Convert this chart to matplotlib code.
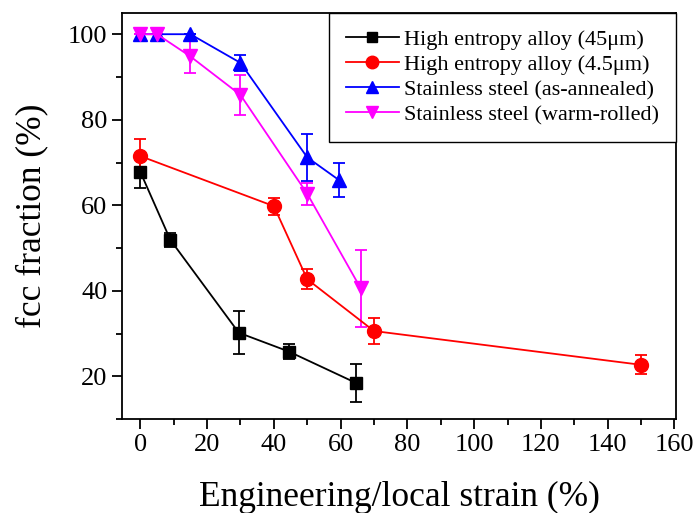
import numpy as np
import matplotlib.pyplot as plt
from matplotlib.ticker import MultipleLocator
from matplotlib.lines import Line2D

plt.rcParams['font.family'] = ['Liberation Serif', 'DejaVu Serif']

# High entropy alloy (45um)
hea45_x = [0, 9, 29.5, 44.5, 64.5]
hea45_y = [67.8, 51.9, 30.2, 25.8, 18.5]
hea45_err = [3.8, 1.6, 5.0, 1.8, 4.4]

# High entropy alloy (4.5um)
hea4_x = [0, 40, 50, 70, 150]
hea4_y = [71.5, 59.8, 42.7, 30.6, 22.7]
hea4_err = [3.9, 2.0, 2.3, 3.0, 2.2]

# Stainless steel (as-annealed)
ann_x = [0, 5, 15, 30, 50, 59.5]
ann_y = [100, 100, 100, 93.3, 71.2, 65.9]
ann_err = [0, 0, 0, 1.9, 5.5, 4.0]

# Stainless steel (warm-rolled)
wr_x = [0, 5, 15, 30, 50, 66]
wr_y = [100, 100, 94.8, 85.8, 62.7, 40.6]
wr_err = [0, 0, 3.9, 4.7, 2.6, 9.0]

series = [
    (hea45_x, hea45_y, hea45_err, 'black', 's', 8.5, 'High entropy alloy (45\u03bcm)'),
    (hea4_x, hea4_y, hea4_err, 'red', 'o', 10, 'High entropy alloy (4.5\u03bcm)'),
    (ann_x, ann_y, ann_err, 'blue', '^', 10, 'Stainless steel (as-annealed)'),
    (wr_x, wr_y, wr_err, '#FF00FF', 'v', 10, 'Stainless steel (warm-rolled)'),
]

fig = plt.figure(figsize=(6.97, 5.13), dpi=100)
ax = fig.add_axes([0.175, 0.183, 0.795, 0.792])

handles = []
for x, y, e, c, m, ms, lab in series:
    ax.errorbar(x, y, yerr=e, color=c, marker=m, markersize=ms, lw=1.3,
                capsize=4, capthick=1.3, elinewidth=1.3)
    # legend entry without the error bar
    handles.append(Line2D([], [], color=c, marker=m, markersize=ms * 0.9, lw=1.3, label=lab))

ax.set_xlim(-5.5, 160.5)
ax.set_ylim(10, 105)
ax.xaxis.set_major_locator(MultipleLocator(20))
ax.xaxis.set_minor_locator(MultipleLocator(10))
ax.yaxis.set_major_locator(MultipleLocator(20))
ax.yaxis.set_minor_locator(MultipleLocator(10))
ax.tick_params(which='major', direction='out', length=7, width=1.3, labelsize=19)
ax.tick_params(which='minor', direction='out', length=4, width=1.3)
for s in ax.spines.values():
    s.set_linewidth(1.3)

ax.set_xlabel('Engineering/local strain (%)', fontsize=25.5, labelpad=18)
ax.set_ylabel('fcc fraction (%)', fontsize=25.5, labelpad=14)

leg = ax.legend(handles=handles, loc='upper right', fontsize=16, borderaxespad=0,
                fancybox=False, edgecolor='black', framealpha=1, handlelength=2.4,
                handletextpad=0.25, labelspacing=0.2, borderpad=0.75)
leg.get_frame().set_linewidth(1.0)

fig.savefig('out.png', dpi=100)
